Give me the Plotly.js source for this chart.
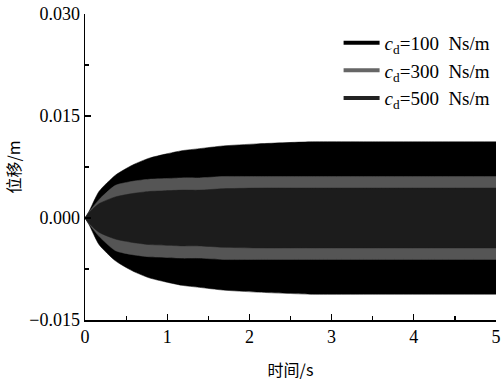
<!DOCTYPE html>
<html>
<head>
<meta charset="utf-8">
<script src="https://cdn.plot.ly/plotly-3.0.1.min.js"></script>
<style>html,body{margin:0;padding:0;background:#fff;}#chart{width:503px;height:382px;}</style>
</head>
<body>
<div id="chart"></div>
<script>
// Envelope of the (dense) oscillating displacement
var time   = [0, 0.05, 0.17, 0.37, 0.58, 0.78, 0.98, 1.18, 1.39, 1.68, 2.09, 2.74, 3.5, 4.25, 5.0];
var amp100 = [0, 0.0010, 0.0039, 0.0063, 0.0078, 0.0088, 0.0094, 0.0099, 0.0102, 0.0106, 0.0109, 0.0112, 0.0112, 0.0112, 0.0112];
var amp300 = [0, 0.0009, 0.0027, 0.0048, 0.0054, 0.0057, 0.0058, 0.0059, 0.0059, 0.0061, 0.0061, 0.0061, 0.0061, 0.0061, 0.0061];
var amp500 = [0, 0.0008, 0.0021, 0.0031, 0.0036, 0.0039, 0.0040, 0.0041, 0.0041, 0.0043, 0.0044, 0.0044, 0.0044, 0.0044, 0.0044];
var seriesNames = ['<i>c</i><sub>d</sub>=100  Ns/m', '<i>c</i><sub>d</sub>=300  Ns/m', '<i>c</i><sub>d</sub>=500  Ns/m'];
var fillColors = ['#000000', '#555555', '#1c1c1c'];
var legendColors = ['#000000', '#666666', '#222222'];
var yTicks = [-0.015, 0.000, 0.015, 0.030];
var xTicks = [0, 1, 2, 3, 4, 5];

var amps = [amp100, amp300, amp500];
var traces = [];
for (var i = 0; i < 3; i++) {
  var neg = amps[i].map(function(v){ return -v; });
  traces.push({x: time, y: neg, type: 'scatter', mode: 'lines',
               line: {color: fillColors[i], width: 0.5, shape: 'spline', smoothing: 0.6},
               showlegend: false, hoverinfo: 'skip'});
  traces.push({x: time, y: amps[i], type: 'scatter', mode: 'lines', fill: 'tonexty',
               fillcolor: fillColors[i],
               line: {color: fillColors[i], width: 0.5, shape: 'spline', smoothing: 0.6},
               showlegend: false, hoverinfo: 'skip'});
}
for (var j = 0; j < 3; j++) {
  traces.push({x: [null], y: [null], type: 'scatter', mode: 'lines', name: seriesNames[j],
               legendgroup: 'g' + j, line: {color: legendColors[j], width: 4}});
}

var serif = 'Liberation Serif';
var cjk = 'Noto Sans CJK SC';
var layout = {
  width: 503, height: 382,
  margin: {l: 85, r: 7, t: 14, b: 62},
  paper_bgcolor: '#fff', plot_bgcolor: '#fff',
  font: {family: serif, size: 18, color: '#000'},
  showlegend: true,
  legend: {x: 0.617, y: 0.968, xanchor: 'left', yanchor: 'top', bgcolor: 'rgba(0,0,0,0)',
           font: {family: serif, size: 19, color: '#000'}, tracegroupgap: 0, itemwidth: 36},
  xaxis: {range: [0, 5], tickvals: xTicks, ticktext: xTicks.map(String),
          tickfont: {family: serif, size: 18, color: '#000'},
          showline: true, linecolor: '#000', linewidth: 1.5, mirror: false,
          ticks: 'inside', ticklen: 6, tickwidth: 1.2, tickcolor: '#000',
          minor: {dtick: 0.5, ticks: 'inside', ticklen: 4, tickwidth: 1.2, tickcolor: '#000'},
          showgrid: false, zeroline: false,
          title: {text: '时间/s', font: {family: cjk, size: 16}, standoff: 18}},
  yaxis: {range: [-0.015, 0.030], tickvals: yTicks, ticktext: yTicks.map(function(v){ return v.toFixed(3).replace('-', '\u2212'); }),
          tickfont: {family: serif, size: 18, color: '#000'},
          showline: true, linecolor: '#000', linewidth: 1.5, mirror: false,
          ticks: 'inside', ticklen: 6, tickwidth: 1.2, tickcolor: '#000',
          minor: {dtick: 0.0075, ticks: 'inside', ticklen: 4, tickwidth: 1.2, tickcolor: '#000'},
          showgrid: false, zeroline: false,
          title: {text: '位移/m', font: {family: cjk, size: 16}, standoff: 4}}
};
Plotly.newPlot('chart', traces, layout, {staticPlot: true, displayModeBar: false});
</script>
</body>
</html>
